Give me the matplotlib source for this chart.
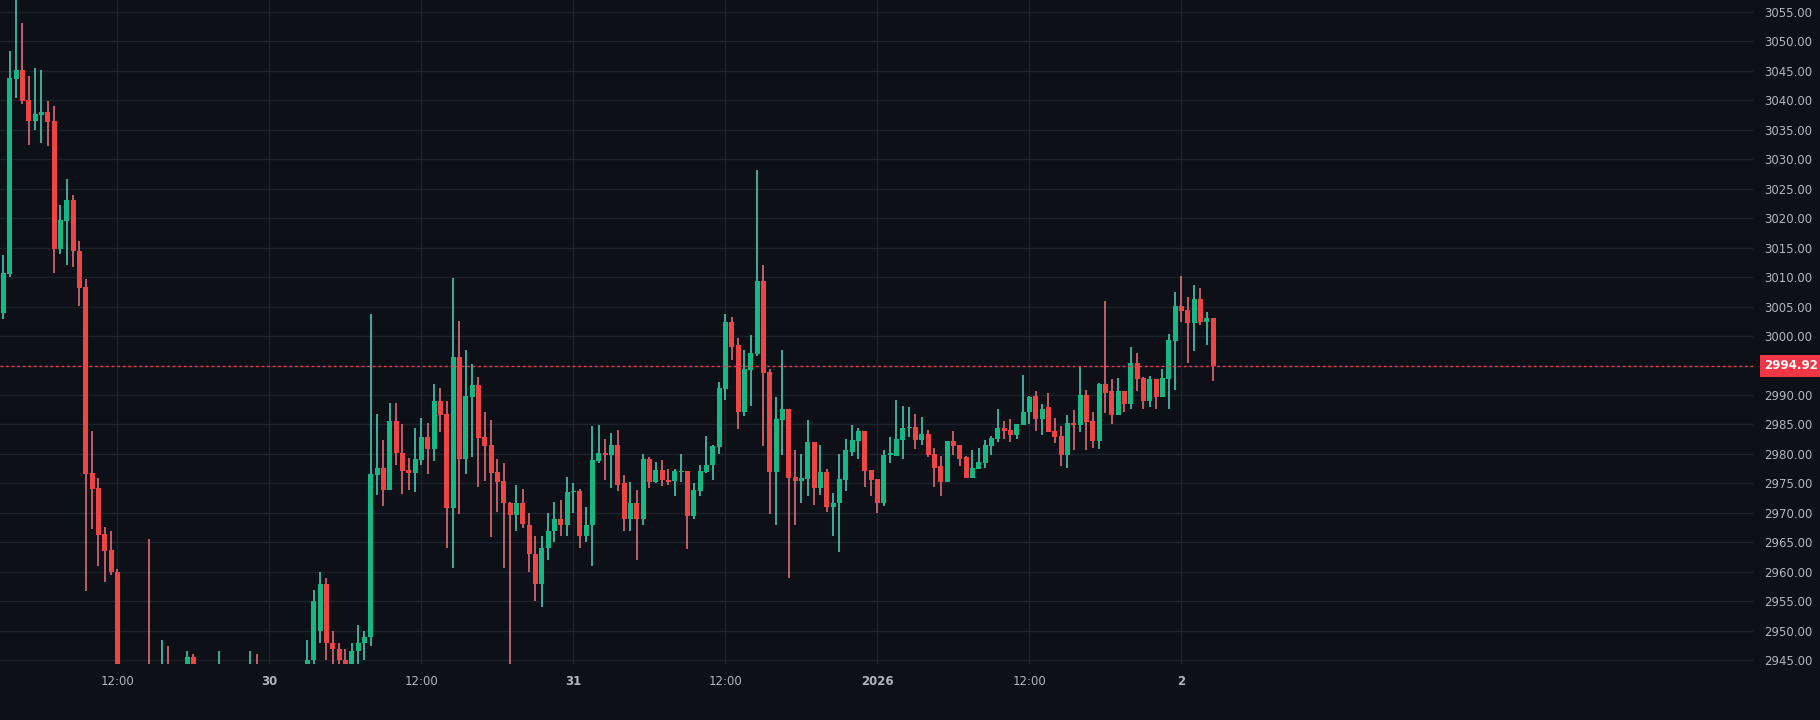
import numpy as np
import matplotlib.pyplot as plt

# 30-minute candles, index 0 = 29 Dec 03:00
opens = [3003.9, 3010.5, 3043.6, 3045.1, 3040.1, 3036.4, 3037.5, 3038.0, 3036.4, 3014.7,
         3019.5, 3023.0, 3014.5, 3008.3, 2976.7, 2974.2, 2966.4, 2963.7, 2960.0,
         2930, 2926, 2932, 2936, 2933, 2930, 2935, 2939, 2937, 2940, 2943, 2945.5, 2942, 2938,
         2940, 2937, 2941, 2936, 2938, 2934, 2939, 2942, 2938, 2933, 2936, 2932, 2937, 2940,
         2938, 2942, 2945, 2950, 2958, 2948, 2947, 2945, 2943, 2946.5, 2948,
         2949.0, 2976.4, 2977.7, 2973.9, 2985.6,
         2980.2, 2977.2, 2976.7, 2978.9, 2982.9, 2980.9, 2988.9, 2986.7, 2970.9, 2996.4,
         2979.2, 2989.7, 2991.7, 2982.9, 2981.6, 2976.9, 2975.4, 2971.7, 2969.6, 2971.7,
         2968.0, 2963.0, 2958.0, 2964.0, 2967.0, 2969.0, 2968.0, 2973.5, 2973.7, 2966.0,
         2968.0, 2978.8, 2980.1, 2979.8, 2981.5, 2975.0, 2969.0, 2971.7, 2969.0, 2979.2,
         2975.2, 2977.2, 2975.6,
         2975.4, 2976.9, 2977.1, 2969.4, 2973.7, 2976.9, 2978.1, 2981.2, 2991.0, 3002.4,
         2998.4, 2987.2, 2994.2, 2997.0, 3009.4, 2993.9, 2976.9, 2985.7, 2987.6, 2976.1,
         2975.4, 2975.7, 2982.1, 2974.2, 2976.9, 2971.0, 2971.6, 2975.6, 2980.4, 2982.2,
         2983.9, 2977.2, 2975.7, 2971.6, 2979.9, 2979.7, 2982.4, 2984.4, 2984.6, 2982.4,
         2983.4, 2980.0, 2977.9, 2975.2, 2982.2, 2981.6, 2979.4, 2975.9, 2977.4, 2978.4,
         2981.4, 2982.6, 2984.4, 2984.1, 2983.2, 2984.9, 2987.1, 2989.9, 2985.9, 2987.9,
         2983.9, 2983.1, 2979.9, 2985.2, 2984.9, 2990.0, 2985.6, 2982.2, 2991.9, 2990.6,
         2986.6, 2990.6, 2988.4, 2995.5, 2992.9, 2989.0, 2992.7, 2989.6, 2992.7, 2999.2,
         3005.1, 3004.4, 3002.2, 3006.2, 3002.4, 3003.1]
highs = [3013.8, 3048.4, 3057.0, 3053.1, 3044.1, 3045.4, 3045.1, 3039.9, 3039.1, 3022.3,
         3026.6, 3023.9, 3016.1, 3009.7, 2983.9, 2976.0, 2967.6, 2966.9, 2960.5,
         2934, 2936, 2940, 2938, 2965.5, 2938, 2948.5, 2947.5, 2943, 2944, 2946.5, 2946, 2943, 2942,
         2942, 2946.5, 2943, 2940, 2940, 2942, 2946.5, 2946, 2940, 2938, 2937, 2940, 2943, 2942,
         2943, 2948.5, 2957, 2960, 2959, 2950, 2948, 2947, 2948, 2951, 2950,
         3003.7, 2986.7, 2982.4, 2988.7, 2988.7,
         2985.1, 2979.3, 2984.4, 2986.1, 2985.2, 2991.9, 2991.2, 2988.9, 3009.9, 3002.6,
         2997.7, 2995.3, 2993.1, 2987.1, 2985.7, 2979.1, 2978.4, 2971.9, 2974.7, 2974.0,
         2970.0, 2966.0, 2966.0, 2970.0, 2971.9, 2972.2, 2976.1, 2975.0, 2974.0, 2971.0,
         2984.7, 2984.9, 2982.6, 2983.6, 2984.0, 2976.5, 2975.3, 2973.9, 2980.0, 2979.5,
         2978.7, 2978.9, 2977.4,
         2977.4, 2980.0, 2977.1, 2975.1, 2978.1, 2983.1, 2981.6, 2992.2, 3003.7, 3003.2,
         2999.6, 2997.7, 3000.2, 3028.2, 3012.0, 2994.4, 2989.6, 2997.6, 2987.6, 2980.6,
         2980.0, 2985.7, 2982.1, 2981.6, 2977.4, 2973.4, 2980.0, 2982.6, 2984.9, 2984.4,
         2983.9, 2977.2, 2975.7, 2980.7, 2982.9, 2989.1, 2988.1, 2987.9, 2986.7, 2986.2,
         2984.1, 2981.0, 2979.7, 2982.2, 2983.9, 2981.6, 2979.6, 2980.6, 2981.0, 2982.4,
         2983.1, 2987.6, 2985.6, 2985.9, 2985.1, 2993.4, 2989.9, 2990.6, 2988.4, 2990.3,
         2986.1, 2984.7, 2986.6, 2987.4, 2994.9, 2990.9, 2987.1, 2992.1, 3006.0, 2992.7,
         2992.9, 2990.6, 2998.2, 2997.2, 2993.0, 2993.2, 2992.7, 2994.4, 3000.4, 3007.4,
         3010.2, 3006.6, 3008.6, 3008.2, 3004.1, 3003.1]
lows = [3002.9, 3010.0, 3040.3, 3039.3, 3032.4, 3034.9, 3032.7, 3032.2, 3010.7, 3014.0,
        3012.0, 3011.7, 3005.1, 2956.8, 2967.3, 2961.0, 2958.2, 2959.5, 2925,
        2922, 2924, 2929, 2930, 2927, 2928, 2933, 2934, 2935, 2938, 2940, 2939, 2936, 2935,
        2934, 2935, 2933, 2932, 2931, 2932, 2937, 2936, 2930, 2930, 2928, 2930, 2935, 2935,
        2936, 2940, 2943, 2948, 2945, 2943, 2941, 2941, 2941, 2944, 2945,
        2947.5, 2973.1, 2971.1, 2973.9, 2978.2,
        2973.2, 2973.9, 2973.6, 2978.1, 2976.6, 2978.8, 2983.7, 2964.1, 2960.7, 2969.9,
        2976.6, 2979.4, 2974.4, 2975.4, 2965.9, 2970.1, 2960.7, 2944.0, 2966.9, 2967.4,
        2960.0, 2955.0, 2954.0, 2962.0, 2965.0, 2966.0, 2966.0, 2970.0, 2964.0, 2965.0,
        2961.0, 2978.5, 2975.5, 2974.3, 2973.8, 2967.0, 2967.0, 2962.0, 2968.0, 2974.3,
        2975.0, 2974.5, 2974.8,
        2972.9, 2975.2, 2963.9, 2969.0, 2972.9, 2976.7, 2975.6, 2980.0, 2989.2, 2995.9,
        2984.2, 2986.4, 2988.2, 2996.6, 2981.4, 2969.9, 2967.9, 2979.9, 2958.9, 2967.9,
        2971.6, 2972.9, 2971.4, 2973.0, 2970.2, 2966.0, 2963.4, 2973.7, 2979.6, 2979.1,
        2974.4, 2972.9, 2970.0, 2971.1, 2978.4, 2979.7, 2979.1, 2982.9, 2980.9, 2981.6,
        2979.4, 2974.4, 2972.9, 2975.2, 2979.9, 2977.9, 2975.9, 2975.9, 2977.4, 2977.7,
        2979.9, 2982.1, 2982.6, 2982.1, 2982.6, 2984.9, 2985.1, 2983.9, 2983.2, 2983.7,
        2981.9, 2978.0, 2977.7, 2980.7, 2983.7, 2980.7, 2981.0, 2980.9, 2986.9, 2985.0,
        2986.6, 2987.2, 2987.7, 2990.7, 2987.6, 2987.9, 2987.6, 2989.6, 2987.6, 2990.9,
        3002.4, 2995.4, 2997.4, 3001.9, 2998.4, 2992.4]
closes = [3010.7, 3043.75, 3045.1, 3039.9, 3036.4, 3037.6, 3038.0, 3036.3, 3014.7, 3019.6,
          3023.0, 3014.4, 3008.2, 2976.6, 2974.1, 2966.3, 2963.6, 2960.0, 2930,
          2926, 2932, 2936, 2933, 2930, 2935, 2939, 2937, 2940, 2943, 2945.5, 2942, 2938, 2940,
          2937, 2941, 2936, 2938, 2934, 2939, 2942, 2938, 2933, 2936, 2932, 2937, 2940, 2938,
          2942, 2945, 2955, 2958, 2948, 2947, 2945, 2943, 2946.5, 2948, 2949.0,
          2976.6, 2977.7, 2973.9, 2985.6, 2980.1,
          2977.1, 2976.8, 2979.1, 2982.9, 2980.9, 2988.9, 2986.6, 2970.9, 2996.4, 2979.2,
          2989.9, 2991.7, 2982.7, 2981.4, 2976.7, 2975.2, 2971.6, 2969.6, 2971.7, 2968.2,
          2963.0, 2958.0, 2964.0, 2967.0, 2969.0, 2968.0, 2973.6, 2973.8, 2966.0, 2968.0,
          2979.0, 2980.1, 2979.8, 2981.5, 2974.8, 2969.0, 2971.7, 2969.0, 2979.1, 2975.2,
          2977.2, 2975.5, 2975.3,
          2977.1, 2977.1, 2969.4, 2973.9, 2977.1, 2978.2, 2981.4, 2991.2, 3002.4, 2998.2,
          2987.2, 2994.4, 2997.2, 3009.4, 2993.7, 2976.9, 2985.9, 2987.6, 2975.9, 2975.4,
          2975.9, 2982.1, 2974.2, 2976.9, 2971.0, 2971.7, 2975.7, 2980.6, 2982.4, 2983.9,
          2977.1, 2975.6, 2971.6, 2979.9, 2980.0, 2982.6, 2984.4, 2984.6, 2982.4, 2983.4,
          2979.9, 2977.7, 2975.2, 2982.2, 2981.4, 2979.2, 2975.9, 2977.6, 2978.6, 2981.6,
          2982.7, 2984.4, 2983.9, 2983.2, 2985.1, 2987.2, 2989.7, 2985.9, 2987.7, 2983.7,
          2982.9, 2979.9, 2985.2, 2984.9, 2990.0, 2985.4, 2982.2, 2991.9, 2990.4, 2986.6,
          2990.6, 2988.4, 2995.5, 2992.7, 2989.0, 2992.7, 2989.6, 2992.9, 2999.4, 3005.1,
          3004.2, 3002.2, 3006.2, 3002.4, 3003.1, 2994.92]

last_price = 2994.92
tick_pos = [18, 42, 66, 90, 114, 138, 162, 186]
tick_labels = ["12:00", "30", "12:00", "31", "12:00", "2026", "12:00", "2"]

bg = "#0d1017"
grid_c = "#1c212b"
up_body, up_wick = "#15b884", "#4fd6bd"
dn_body, dn_wick = "#ef4444", "#f07482"

o = np.array(opens); h = np.array(highs); l = np.array(lows); c = np.array(closes)
x = np.arange(len(o))
up = c >= o

fig = plt.figure(figsize=(18.2, 7.2), dpi=100, facecolor=bg)
ax = fig.add_axes([0, 0.078, 0.963, 0.922], facecolor=bg)

ax.vlines(x[up], l[up], h[up], color=up_wick, linewidth=1.1, zorder=2)
ax.vlines(x[~up], l[~up], h[~up], color=dn_wick, linewidth=1.1, zorder=2)
body = np.maximum(np.abs(c - o), 0.25)
ax.bar(x[up], body[up], bottom=np.minimum(o, c)[up], width=0.78, color=up_body, zorder=3)
ax.bar(x[~up], body[~up], bottom=np.minimum(o, c)[~up], width=0.78, color=dn_body, zorder=3)

ax.axhline(last_price, color="#f23645", linewidth=1, linestyle=(0, (2, 2)), zorder=4)

ax.set_xlim(-0.55, 276.2)
ax.set_ylim(2944.4, 3057.0)
yt = np.arange(2945, 3056, 5)
ax.set_yticks(yt)
ax.set_yticklabels([f"{v:.2f}" if abs(v - last_price) > 2 else "" for v in yt])
ax.set_xticks(tick_pos)
ax.set_xticklabels(tick_labels)
for t, lab in zip(ax.get_xticklabels(), tick_labels):
    if lab in ("30", "31", "2026", "2"):
        t.set_fontweight("bold")
ax.yaxis.tick_right()
ax.tick_params(colors="#b2b5be", labelsize=8.5, length=0, pad=8)
ax.grid(True, color=grid_c, linewidth=1)
ax.set_axisbelow(True)
for s in ax.spines.values():
    s.set_visible(False)

ax.annotate(f"{last_price:.2f}", xy=(1, last_price), xycoords=("axes fraction", "data"),
            xytext=(8, 0), textcoords="offset points", va="center", ha="left",
            color="white", fontsize=8.5, fontweight="bold",
            bbox=dict(boxstyle="square,pad=0.35", fc="#f23645", ec="none"))

fig.savefig("out.png", facecolor=bg)
